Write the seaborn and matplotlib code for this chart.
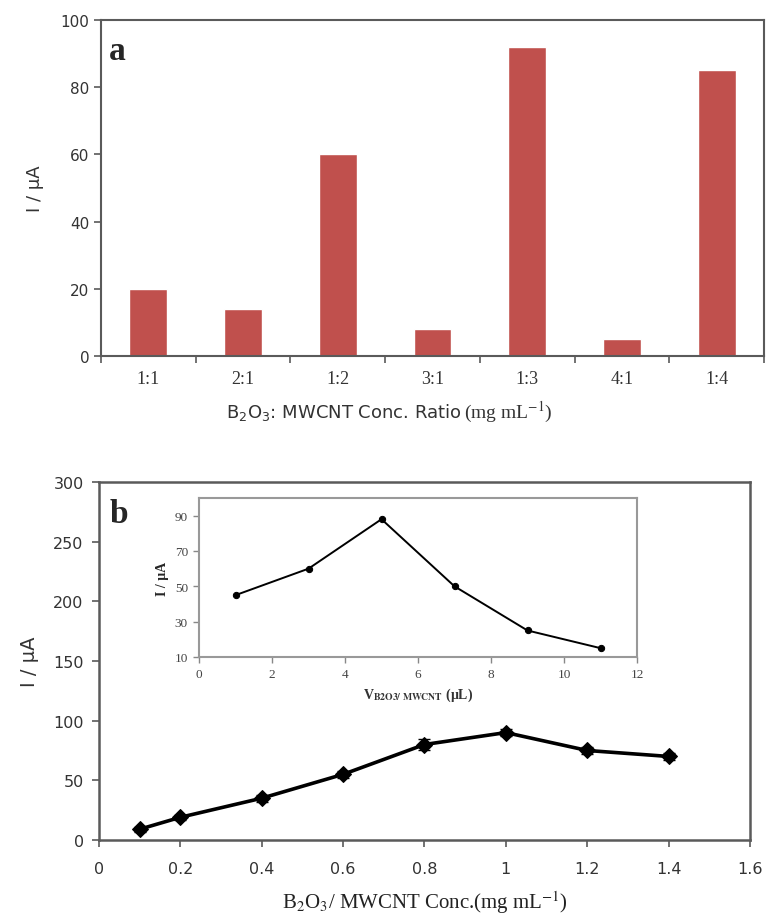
import numpy as np
import pandas as pd
import matplotlib
matplotlib.use("Agg")
import matplotlib.pyplot as plt
import seaborn as sns

# panel a data
ratios = ["1:1", "2:1", "1:2", "3:1", "1:3", "4:1", "1:4"]
ratio_current = [20, 14, 60, 8, 92, 5, 85]

# panel b data
conc = [0.1, 0.2, 0.4, 0.6, 0.8, 1.0, 1.2, 1.4]
conc_current = [9, 19, 35, 55, 80, 90, 75, 70]
conc_err = [2, 2, 3, 3, 5, 3, 3, 3]

# inset data
volume = [1, 3, 5, 7, 9, 11]
volume_current = [45, 60, 88, 50, 25, 15]

sns.set_style("ticks")
plt.rcParams['font.family'] = ['DejaVu Sans']

SERIF = ['Liberation Serif', 'DejaVu Serif']
SANS = ['DejaVu Sans']
BAR_RED = '#C0504D'
FRAME = '#5a5a5a'

fig = plt.figure(figsize=(7.66, 9.20), dpi=100)

# ---------------- panel a ----------------
ax1 = fig.add_axes([0.1319, 0.6120, 0.8655, 0.3652])
df_a = pd.DataFrame({'ratio': ratios, 'current': ratio_current})
sns.barplot(data=df_a, x='ratio', y='current', order=ratios, color=BAR_RED,
            width=0.4, saturation=1, ax=ax1)
ax1.set_xlim(-0.5, len(ratios) - 0.5)
ax1.set_ylim(0, 100)
ax1.set_yticks(np.arange(0, 101, 20))
ax1.set_xticks(np.arange(-0.5, len(ratios), 1.0), minor=True)
ax1.tick_params(axis='x', which='major', length=0, pad=10)
ax1.tick_params(axis='x', which='minor', length=5, width=1.2, color=FRAME, direction='out')
ax1.tick_params(axis='y', length=5, width=1.2, color=FRAME, direction='out')
for lab in ax1.get_xticklabels():
    lab.set_family(SERIF)
    lab.set_fontsize(13)
    lab.set_color('#333333')
for lab in ax1.get_yticklabels():
    lab.set_family(SANS)
    lab.set_fontsize(11)
    lab.set_color('#333333')
ax1.set_xlabel('')
ax1.set_ylabel('I / μA', fontsize=13, color='#333333', labelpad=12, family=SANS)
for sp in ax1.spines.values():
    sp.set_visible(True)
    sp.set_color(FRAME)
    sp.set_linewidth(1.5)
ax1.text(0.012, 0.955, 'a', transform=ax1.transAxes, fontsize=24, fontweight='bold',
         family=SERIF, va='top', ha='left')

fig.text(0.603, 0.552, r'B$_2$O$_3$: MWCNT Conc. Ratio', family=SANS, fontsize=13,
         ha='right', va='center', color='#333333')
fig.text(0.606, 0.552, r'(mg mL$^{-1}$)', family=SERIF, fontsize=14,
         ha='left', va='center', color='#333333', math_fontfamily='stix')

# ---------------- panel b ----------------
ax2 = fig.add_axes([0.1292, 0.0859, 0.8499, 0.3891])
sns.lineplot(x=conc, y=conc_current, color='black', linewidth=2.6, marker='D',
             markersize=8, markeredgecolor='black', ax=ax2)
ax2.errorbar(conc, conc_current, yerr=conc_err, fmt='none', ecolor='black',
             elinewidth=1.2, capsize=4)
ax2.set_xlim(0, 1.6)
ax2.set_ylim(0, 300)
ax2.set_xticks(np.arange(0, 1.61, 0.2))
ax2.set_xticklabels(['0', '0.2', '0.4', '0.6', '0.8', '1', '1.2', '1.4', '1.6'])
ax2.set_yticks(np.arange(0, 301, 50))
ax2.tick_params(axis='both', length=5, width=1.2, color=FRAME, direction='out',
                labelsize=11.5, labelcolor='#333333', pad=6)
ax2.tick_params(axis='x', pad=10)
for sp in ax2.spines.values():
    sp.set_visible(True)
    sp.set_color(FRAME)
    sp.set_linewidth(1.8)
ax2.set_ylabel('I / μA', fontsize=14, color='#333333', labelpad=10, family=SANS)
ax2.set_xlabel(r'B$_2$O$_3$/ MWCNT Conc.(mg mL$^{-1}$)', fontsize=15, family=SERIF,
               math_fontfamily='stix', labelpad=9, color='#222222')
ax2.text(0.017, 0.955, 'b', transform=ax2.transAxes, fontsize=24, fontweight='bold',
         family=SERIF, va='top', ha='left')

# ---------------- inset ----------------
ax3 = fig.add_axes([0.2598, 0.2848, 0.5718, 0.1728])
sns.lineplot(x=volume, y=volume_current, color='black', linewidth=1.4, marker='o',
             markersize=4.5, markeredgecolor='black', ax=ax3)
ax3.set_xlim(0, 12)
ax3.set_ylim(10, 100)
ax3.set_xticks(np.arange(0, 13, 2))
ax3.set_yticks(np.arange(10, 91, 20))
ax3.tick_params(axis='both', length=4, width=1, color='#888888', direction='out',
                labelsize=9.5, labelcolor='#444444', pad=4)
for lab in ax3.get_xticklabels() + ax3.get_yticklabels():
    lab.set_family(SERIF)
for sp in ax3.spines.values():
    sp.set_visible(True)
    sp.set_color('#999999')
    sp.set_linewidth(1.5)
ax3.set_ylabel('I / μA', fontsize=10, fontweight='bold', family=SERIF, labelpad=4)
ax3.set_xlabel(r'V$_{\mathbf{B2O3/\ MWCNT}}$ (μL)', fontsize=10, fontweight='bold',
               family=SERIF, math_fontfamily='stix', labelpad=4, color='#333333')

fig.savefig('out.png', dpi=100)
